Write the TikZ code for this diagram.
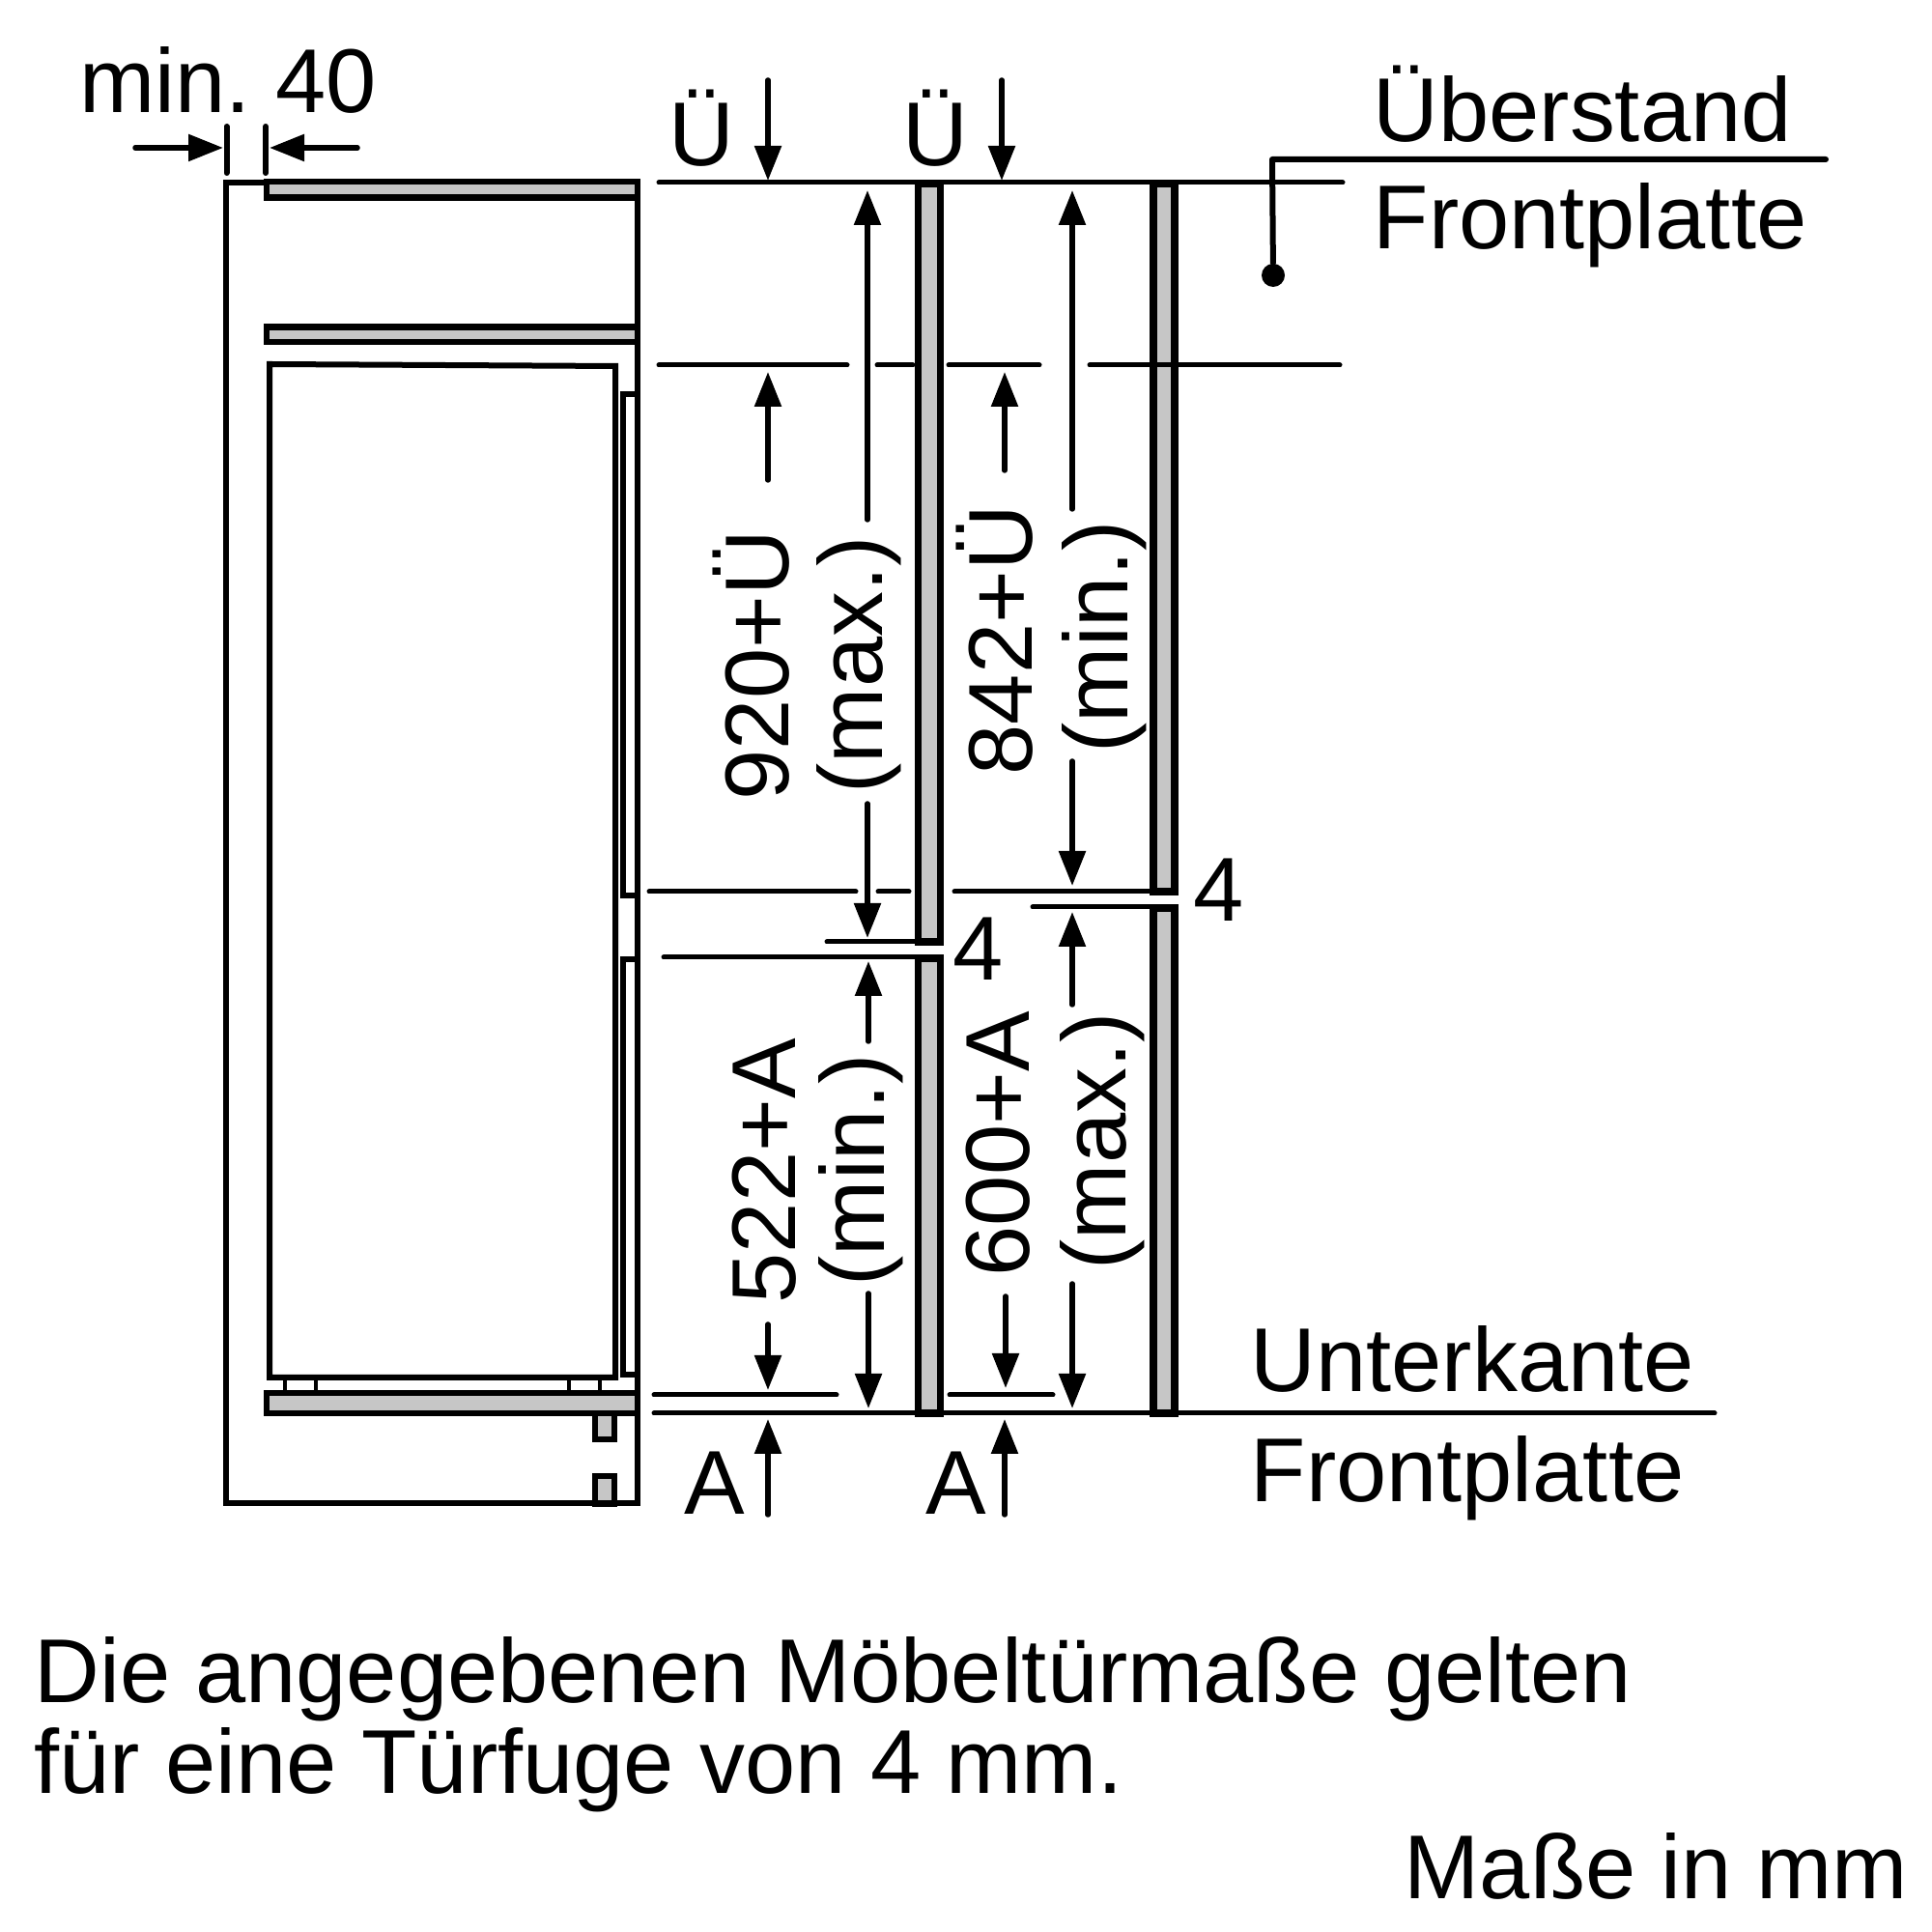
\documentclass[tikz,border=0pt]{standalone}
\usepackage{fontspec}
\setmainfont{Liberation Sans}
\usetikzlibrary{arrows.meta}
\tikzset{
	>={Triangle[length=3.6mm,width=2.7mm]},
	lab/.style={inner sep=0pt,anchor=base west,font=\fontsize{26.7pt}{30pt}\selectfont},
	vlab/.style={lab,rotate=90},
	dim/.style={->,line width=.055cm,line cap=round},
	ref/.style={line width=.05cm,line cap=round},
	part/.style={line width=.068cm,fill=partgray},
	door/.style={line width=.078cm,fill=partgray},
	body/.style={line width=.06cm}
}
\definecolor{partgray}{HTML}{C6C6C6}
\begin{document}
\begin{tikzpicture}
	\useasboundingbox (0,0) rectangle (20,20);
	% reference lines
	\draw[ref] (6.82,18.11) -- (13.90,18.11);
	\draw[ref] (6.72,10.77) -- (8.86,10.77);
	\draw[ref] (9.09,10.77) -- (9.41,10.77);
	\draw[ref] (9.88,10.77) -- (11.92,10.77);
	\draw[ref] (10.69,10.61) -- (11.92,10.61);
	\draw[ref] (8.56,10.25) -- (9.50,10.25);
	\draw[ref] (6.87,10.09) -- (9.50,10.09);
	\draw[ref] (6.77,5.56) -- (8.66,5.56);
	\draw[ref] (9.83,5.56) -- (10.90,5.56);
	\draw[ref] (6.77,5.37) -- (17.75,5.37);
	% cabinet
	\draw[body] (2.34,18.11) rectangle (6.60,4.435);
	\draw[body] (2.79,16.23) -- (6.37,16.21) -- (6.37,5.74) -- (2.79,5.74) -- cycle;
	\draw[body] (6.45,15.92) rectangle (6.60,10.73);
	\draw[body] (6.45,10.07) rectangle (6.60,5.77);
	\draw[line width=.045cm] (2.95,5.74) -- (2.95,5.60);
	\draw[line width=.045cm] (3.27,5.74) -- (3.27,5.60);
	\draw[line width=.045cm] (5.89,5.74) -- (5.89,5.60);
	\draw[line width=.045cm] (6.21,5.74) -- (6.21,5.60);
	\draw[part] (2.76,18.12) rectangle (6.60,17.955);
	\draw[part] (2.76,16.615) rectangle (6.60,16.46);
	\draw[part] (2.76,5.58) rectangle (6.60,5.37);
	\draw[part] (6.16,5.37) rectangle (6.36,5.10);
	\draw[part] (6.16,4.72) rectangle (6.36,4.435);
	% doors
	\draw[door] (9.505,18.10) rectangle (9.735,10.25);
	\draw[door] (9.505,10.08) rectangle (9.735,5.37);
	\draw[door] (11.94,18.10) rectangle (12.16,10.77);
	\draw[door] (11.94,10.60) rectangle (12.16,5.37);
	\draw[ref] (6.82,16.22) -- (8.77,16.22);
	\draw[ref] (9.08,16.22) -- (9.45,16.22);
	\draw[ref] (9.82,16.22) -- (10.76,16.22);
	\draw[ref] (11.28,16.22) -- (13.87,16.22);
	% min. 40
	\draw[body,line cap=round] (2.345,18.69) -- (2.345,18.21);
	\draw[body,line cap=round] (2.75,18.69) -- (2.75,18.21);
	\draw[dim] (1.40,18.47) -- (2.31,18.47);
	\draw[dim] (3.70,18.47) -- (2.79,18.47);
	% dimension arrows
	\draw[dim] (7.95,19.17) -- (7.95,18.13);
	\draw[dim] (10.37,19.17) -- (10.37,18.13);
	\draw[dim] (7.95,15.03) -- (7.95,16.15);
	\draw[dim] (8.98,14.62) -- (8.98,18.03);
	\draw[dim] (8.98,11.68) -- (8.98,10.29);
	\draw[dim] (10.40,15.13) -- (10.40,16.15);
	\draw[dim] (11.10,14.73) -- (11.10,18.03);
	\draw[dim] (11.10,12.12) -- (11.10,10.83);
	\draw[dim] (8.99,9.22) -- (8.99,10.05);
	\draw[dim] (8.99,6.61) -- (8.99,5.42);
	\draw[dim] (7.95,6.29) -- (7.95,5.61);
	\draw[dim] (10.41,6.58) -- (10.41,5.63);
	\draw[dim] (11.10,9.60) -- (11.10,10.56);
	\draw[dim] (11.10,6.71) -- (11.10,5.42);
	\draw[dim] (7.95,4.32) -- (7.95,5.31);
	\draw[dim] (10.40,4.32) -- (10.40,5.31);
	% leader
	\node[circle,fill,inner sep=0pt,minimum size=.24cm] (11) at (13.18,17.15) {};
	\draw[line width=.06cm,line cap=round,line join=round] (18.90,18.35) -- (13.17,18.35) -- (11);
	% texts
	\node[lab] (1) at (0.82,18.83) {min.\hspace{-.09cm} 40};
	\node[lab,anchor=base] (2) at (7.26,18.28) {Ü};
	\node[lab,anchor=base] (3) at (9.68,18.28) {Ü};
	\node[lab] (4) at (14.21,18.53) {Überstand};
	\node[lab] (5) at (14.21,17.42) {Frontplatte};
	\node[lab] (6) at (12.94,5.59) {Unterkante};
	\node[lab] (7) at (12.94,4.45) {Frontplatte};
	\node[lab] (8) at (7.08,4.32) {A};
	\node[lab] (9) at (9.58,4.32) {A};
	\node[lab] (10) at (12.35,10.46) {4};
	\node[lab] (12) at (9.86,9.85) {4};
	\node[vlab] (13) at (8.16,11.71) {920+Ü};
	\node[vlab] (14) at (9.13,11.78) {(max.)};
	\node[vlab] (15) at (10.68,11.97) {842+Ü};
	\node[vlab] (16) at (11.67,12.20) {(min.)};
	\node[vlab] (17) at (8.23,6.50) {522+A};
	\node[vlab] (18) at (9.15,6.68) {(min.)};
	\node[vlab] (19) at (10.65,6.78) {600+A};
	\node[vlab] (20) at (11.65,6.85) {(max.)};
	\node[lab] (21) at (0.35,2.37) {Die angegebenen Möbeltürmaße gelten};
	\node[lab] (22) at (0.35,1.43) {für eine Türfuge von 4 mm.};
	\node[lab] (23) at (14.53,0.34) {Maße in mm};
\end{tikzpicture}
\end{document}
